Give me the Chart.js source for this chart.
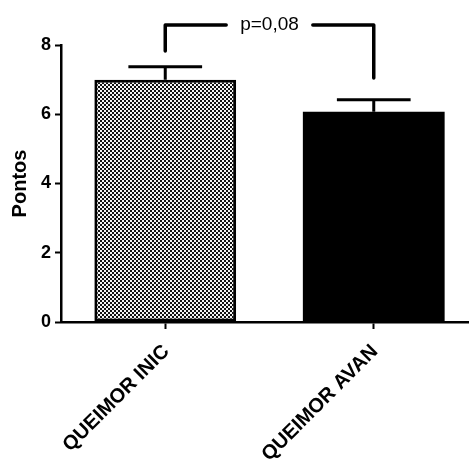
<!DOCTYPE html>
<html>
<head>
<meta charset="utf-8">
<script src="https://cdn.jsdelivr.net/npm/chart.js@4/dist/chart.umd.min.js"></script>
<style>
  html, body { margin: 0; padding: 0; background: #fff; overflow: hidden; }
  #wrap { width: 478px; height: 461px; }
</style>
</head>
<body>
<div id="wrap"><canvas id="c" width="478" height="461"></canvas></div>
<script>
// ---- data ----
const categories = ['QUEIMOR INIC', 'QUEIMOR AVAN'];
const means = [7.0, 6.07];
const sem = [0.37, 0.35];
const yTicks = [0, 2, 4, 6, 8];
const yTitle = 'Pontos';
const pLabel = 'p=0,08';
const bracketTop = [8.58];
const bracketEnds = [7.83, 7.05];

const FONT = '"Liberation Sans", Arial, Helvetica, sans-serif';

// checkered pattern for first bar
function makePattern(ctx) {
  const p = document.createElement('canvas');
  p.width = 4; p.height = 4;
  const g = p.getContext('2d');
  g.fillStyle = '#f4f4f4'; g.fillRect(0, 0, 4, 4);
  g.fillStyle = '#111111';
  g.fillRect(0, 0, 2, 2);
  g.fillRect(2, 2, 2, 2);
  return ctx.createPattern(p, 'repeat');
}

const canvas = document.getElementById('c');
const ctx = canvas.getContext('2d');
const pattern = makePattern(ctx);

const errorBarPlugin = {
  id: 'errorBars',
  afterDatasetsDraw(chart) {
    const c = chart.ctx;
    const y = chart.scales.y;
    const meta = chart.getDatasetMeta(0);
    c.save();
    c.strokeStyle = '#000';
    c.lineWidth = 3;
    c.lineCap = 'butt';
    meta.data.forEach((bar, i) => {
      const x = bar.x;
      const yTop = y.getPixelForValue(means[i] + sem[i]);
      const yBar = y.getPixelForValue(means[i]);
      const half = bar.width * 0.26;
      c.beginPath();
      c.moveTo(x, yBar);
      c.lineTo(x, yTop);
      c.moveTo(x - half, yTop);
      c.lineTo(x + half, yTop);
      c.stroke();
    });
    c.restore();
  },
  afterDraw(chart) {
    const c = chart.ctx;
    const y = chart.scales.y;
    const xs = chart.scales.x;
    const x0 = xs.getPixelForValue(0);
    const x1 = xs.getPixelForValue(1);
    const yt = y.getPixelForValue(bracketTop[0]);
    const yl = y.getPixelForValue(bracketEnds[0]);
    const yr = y.getPixelForValue(bracketEnds[1]);
    const mid = (x0 + x1) / 2;
    c.save();
    c.font = '19px ' + FONT;
    const tw = c.measureText(pLabel).width;
    const gap = 14;
    c.strokeStyle = '#000';
    c.lineWidth = 3.5;
    c.lineCap = 'round';
    c.lineJoin = 'round';
    c.beginPath();
    c.moveTo(x0, yl);
    c.lineTo(x0, yt);
    c.lineTo(mid - tw / 2 - gap, yt);
    c.stroke();
    c.beginPath();
    c.moveTo(mid + tw / 2 + gap, yt);
    c.lineTo(x1, yt);
    c.lineTo(x1, yr);
    c.stroke();
    c.fillStyle = '#000';
    c.textAlign = 'center';
    c.textBaseline = 'middle';
    c.fillText(pLabel, mid, yt);
    c.restore();
  }
};

new Chart(ctx, {
  type: 'bar',
  data: {
    labels: categories,
    datasets: [{
      data: means,
      backgroundColor: [pattern, '#000000'],
      borderColor: '#000000',
      borderWidth: [3, 0],
      borderSkipped: false,
      barPercentage: 0.68,
      categoryPercentage: 1.0
    }]
  },
  options: {
    responsive: false,
    animation: false,
    devicePixelRatio: 1,
    layout: { padding: { top: 45, right: 0, bottom: 0, left: 0 } },
    plugins: {
      legend: { display: false },
      tooltip: { enabled: false }
    },
    scales: {
      x: {
        offset: true,
        grid: {
          offset: false,
          drawOnChartArea: false,
          drawTicks: true,
          tickLength: 7,
          tickColor: '#000',
          tickWidth: 2
        },
        border: { display: true, color: '#000', width: 2.5 },
        ticks: {
          color: '#000',
          font: { family: FONT, size: 20, weight: 'bold' },
          minRotation: 45,
          maxRotation: 45,
          padding: 11,
          labelOffset: 1,
          autoSkip: false
        },
        afterFit(scale) { scale.height = 139; }
      },
      y: {
        min: 0,
        max: 8,
        afterBuildTicks(scale) { scale.ticks = yTicks.map(v => ({ value: v })); },
        grid: {
          drawOnChartArea: false,
          drawTicks: true,
          tickLength: 6,
          tickColor: '#000',
          tickWidth: 2
        },
        border: { display: true, color: '#000', width: 2.5 },
        ticks: {
          color: '#000',
          font: { family: FONT, size: 18, weight: 'bold' },
          padding: 4
        },
        title: {
          display: true,
          text: yTitle,
          color: '#000',
          font: { family: FONT, size: 20, weight: 'bold' },
          padding: { top: 8, bottom: 0 }
        },
        afterFit(scale) { scale.width = 61; }
      }
    }
  },
  plugins: [errorBarPlugin]
});
</script>
</body>
</html>
